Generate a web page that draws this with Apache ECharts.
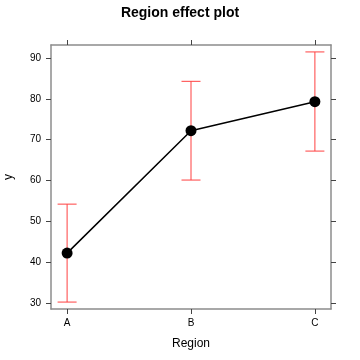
<!DOCTYPE html>
<html><head><meta charset="utf-8">
<script src="https://cdn.jsdelivr.net/npm/echarts@6/dist/echarts.min.js"></script>
<style>html,body{margin:0;padding:0;background:#fff}#c{width:360px;height:360px}</style>
</head><body><div id="c"></div>
<script>
const categories = ['A', 'B', 'C'];
const fitValues = [42.2, 72.2, 79.3];
const lowerValues = [30.2, 60.1, 67.2];
const upperValues = [54.2, 84.3, 91.5];
const yTicks = [30, 40, 50, 60, 70, 80, 90];

const chart = echarts.init(document.getElementById('c'));
const boxColor = '#8c8c8c';
const xPos = categories.map((c, i) => i + 1);
function xAxisCfg(pos, showLabel) {
  return {
    type: 'value', position: pos, min: 0.87, max: 3.13,
    splitLine: {show: false},
    axisLine: {show: true, onZero: false, lineStyle: {color: boxColor, width: 1.5}},
    axisTick: {show: true, inside: false, length: 5, customValues: xPos, lineStyle: {color: '#444'}},
    axisLabel: {show: showLabel, customValues: xPos, formatter: v => categories[Math.round(v) - 1], color: '#000', fontSize: 10, fontFamily: 'Liberation Sans', margin: 9},
    name: showLabel ? 'Region' : '', nameLocation: 'middle', nameGap: 29,
    nameTextStyle: {fontSize: 12, fontFamily: 'Liberation Sans', color: '#000'}
  };
}
function yAxisCfg(pos, showLabel) {
  return {
    type: 'value', position: pos, min: 28.5, max: 93.2,
    splitLine: {show: false},
    axisLine: {show: true, onZero: false, lineStyle: {color: boxColor, width: 1.5}},
    axisTick: {show: true, inside: false, length: 5, customValues: yTicks, lineStyle: {color: '#444'}},
    axisLabel: {show: showLabel, customValues: yTicks, color: '#000', fontSize: 10, fontFamily: 'Liberation Sans', margin: 10},
    name: showLabel ? 'y' : '', nameLocation: 'middle', nameGap: 36, nameRotate: 90,
    nameTextStyle: {fontSize: 12, fontFamily: 'Liberation Sans', color: '#000'}
  };
}
chart.setOption({
  animation: false,
  title: {text: 'Region effect plot', left: 'center', top: 1,
    textStyle: {fontSize: 14, fontWeight: 'bold', fontFamily: 'Liberation Sans', color: '#000'}},
  grid: {left: 51, right: 29, top: 45, bottom: 51, outerBoundsMode: 'none', containLabel: false},
  xAxis: [xAxisCfg('bottom', true), xAxisCfg('top', false)],
  yAxis: [yAxisCfg('left', true), yAxisCfg('right', false)],
  series: [
    {
      type: 'custom', xAxisIndex: 0, yAxisIndex: 0,
      data: xPos.map((x, i) => [x, lowerValues[i], upperValues[i]]),
      renderItem: function (params, api) {
        const lo = api.coord([api.value(0), api.value(1)]);
        const hi = api.coord([api.value(0), api.value(2)]);
        const hw = 9.5;
        const st = {stroke: '#ff4040', lineWidth: 1};
        return {type: 'group', children: [
          {type: 'line', shape: {x1: lo[0], y1: lo[1], x2: hi[0], y2: hi[1]}, style: st},
          {type: 'line', shape: {x1: lo[0] - hw, y1: lo[1], x2: lo[0] + hw, y2: lo[1]}, style: st},
          {type: 'line', shape: {x1: hi[0] - hw, y1: hi[1], x2: hi[0] + hw, y2: hi[1]}, style: st}
        ]};
      }
    },
    {
      type: 'line', xAxisIndex: 0, yAxisIndex: 0,
      data: xPos.map((x, i) => [x, fitValues[i]]),
      symbol: 'circle', symbolSize: 11,
      lineStyle: {color: '#000', width: 1.5},
      itemStyle: {color: '#000'}, z: 5
    }
  ]
});
</script></body></html>
